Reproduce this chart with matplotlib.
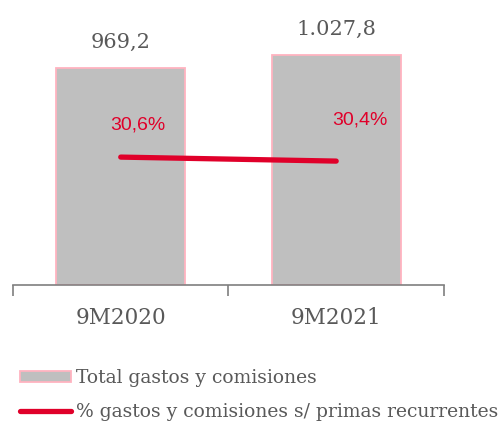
import matplotlib.pyplot as plt
from matplotlib.patches import Patch
from matplotlib.lines import Line2D

# Datos
periodos = ['9M2020', '9M2021']
gastos = [969.2, 1027.8]
gastos_txt = ['969,2', '1.027,8']
ratio = [30.6, 30.4]
ratio_txt = ['30,6%', '30,4%']

gris = '#BFBFBF'
rosa = '#FFB3C0'
rojo = '#E0002A'
texto = '#595959'

fig = plt.figure(figsize=(5.04, 4.24), dpi=100)
ax = fig.add_axes([0.0258, 0.3278, 0.855, 0.634])

x = list(range(len(periodos)))
ax.bar(x, gastos, width=0.6, color=gris, edgecolor=rosa, linewidth=1.3)
for i, v in enumerate(gastos):
    ax.text(i, v + 115, gastos_txt[i], ha='center', va='center',
            fontsize=15, color=texto, family='DejaVu Serif')

ax.set_xlim(-0.5, 1.5)
ax.set_ylim(0, 1200)
ax.set_yticks([])
for s in ['top', 'right', 'left']:
    ax.spines[s].set_visible(False)
ax.spines['bottom'].set_color('#7F7F7F')
ax.spines['bottom'].set_linewidth(1.2)
ax.set_xticks([-0.5, 0.5, 1.5])
ax.set_xticklabels([])
ax.tick_params(axis='x', length=8, width=1.2, color='#7F7F7F')
for i, p in enumerate(periodos):
    ax.text(i, -148, p, ha='center', va='center', fontsize=15.5, color=texto,
            family='DejaVu Serif')

ax2 = ax.twinx()
ax2.plot(x, ratio, color=rojo, linewidth=3.8, solid_capstyle='round')
ax2.set_ylim(24.2, 37.65)
ax2.set_yticks([])
for s in ax2.spines.values():
    s.set_visible(False)
offs_x = [0.08, 0.11]
offs_y = [1.6, 2.05]
for i, v in enumerate(ratio):
    ax2.text(i + offs_x[i], v + offs_y[i], ratio_txt[i], ha='center', va='center',
             fontsize=14, color=rojo, family='Liberation Sans')

handles = [Patch(facecolor=gris, edgecolor=rosa, linewidth=1.3),
           Line2D([0], [0], color=rojo, linewidth=3.8, solid_capstyle='round')]
labels = ['Total gastos y comisiones',
          '% gastos y comisiones s/ primas recurrentes']
fig.legend(handles, labels, loc='upper left', bbox_to_anchor=(0.04, 0.13),
           frameon=False, handlelength=2.7, handleheight=0.55,
           handletextpad=0.3, labelspacing=0.85, borderpad=0, borderaxespad=0,
           prop={'family': 'DejaVu Serif', 'size': 13.5}, labelcolor=texto)

fig.savefig('out.png', dpi=100)
